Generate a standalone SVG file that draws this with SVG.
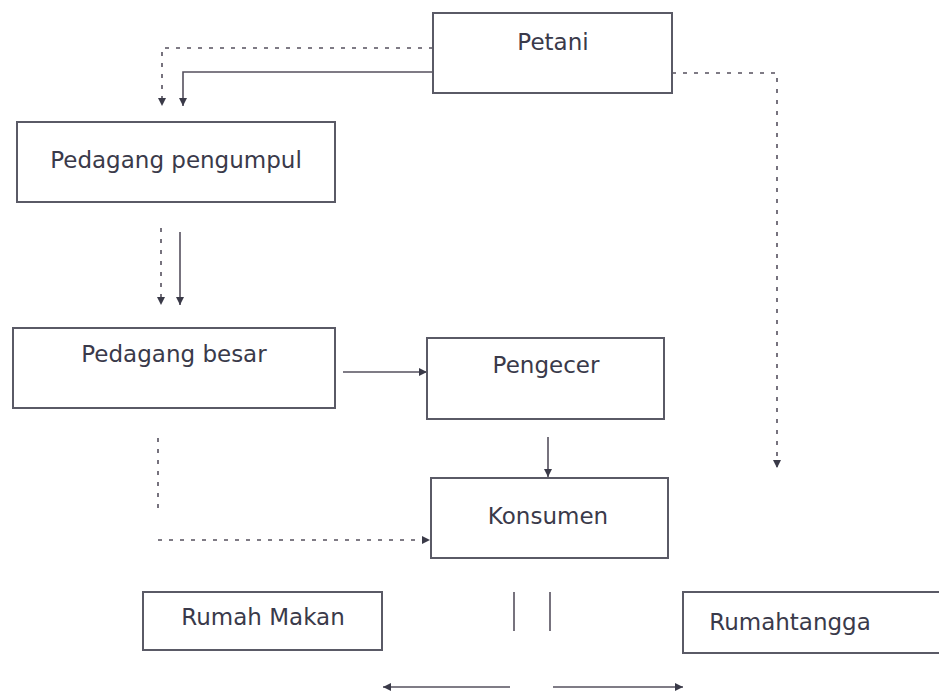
<svg xmlns="http://www.w3.org/2000/svg" width="939" height="697" viewBox="0 0 939 697">
<style>
.box{fill:#fff;stroke:#5a5a66;stroke-width:2}
.lbl{font-family:"DejaVu Sans",Verdana,sans-serif;font-size:23px;fill:#3a3a4a;text-anchor:middle}
.ln{fill:none;stroke:#55505e;stroke-width:1.6}
.dash{stroke-dasharray:4 7}
</style>
<defs>
<marker id="ah" viewBox="0 0 10 10" refX="10" refY="5" markerWidth="8" markerHeight="8" orient="auto" markerUnits="userSpaceOnUse">
<path d="M0,0 L10,5 L0,10 z" fill="#3a3a48"/>
</marker>
</defs>
<rect width="939" height="697" fill="#fff"/>
<g id="connectors">
<polyline class="ln dash" points="433,48 162,48 162,106" marker-end="url(#ah)"/>
<polyline class="ln" points="433,72 183,72 183,106" marker-end="url(#ah)"/>
<polyline class="ln dash" points="672,73 777,73 777,468" marker-end="url(#ah)"/>
<line class="ln dash" x1="161" y1="228" x2="161" y2="305" marker-end="url(#ah)"/>
<line class="ln" x1="180" y1="232" x2="180" y2="305" marker-end="url(#ah)"/>
<line class="ln" x1="343" y1="372" x2="427" y2="372" marker-end="url(#ah)"/>
<line class="ln" x1="548" y1="437" x2="548" y2="477" marker-end="url(#ah)"/>
<line class="ln dash" x1="158" y1="438" x2="158" y2="514"/>
<line class="ln dash" x1="158" y1="540" x2="430" y2="540" marker-end="url(#ah)"/>
<line class="ln" x1="514" y1="592" x2="514" y2="631"/>
<line class="ln" x1="550" y1="592" x2="550" y2="631"/>
<line class="ln" x1="510" y1="687" x2="383" y2="687" marker-end="url(#ah)"/>
<line class="ln" x1="553" y1="687" x2="683" y2="687" marker-end="url(#ah)"/>
</g>
<g id="petani"><rect class="box" x="433" y="13" width="239" height="80"/><text class="lbl" x="553" y="50">Petani</text></g>
<g id="pengumpul"><rect class="box" x="17" y="122" width="318" height="80"/><text class="lbl" x="176" y="168">Pedagang pengumpul</text></g>
<g id="besar"><rect class="box" x="13" y="328" width="322" height="80"/><text class="lbl" x="174" y="362">Pedagang besar</text></g>
<g id="pengecer"><rect class="box" x="427" y="338" width="237" height="81"/><text class="lbl" x="546" y="373">Pengecer</text></g>
<g id="konsumen"><rect class="box" x="431" y="478" width="237" height="80"/><text class="lbl" x="548" y="524">Konsumen</text></g>
<g id="rumahmakan"><rect class="box" x="143" y="592" width="239" height="58"/><text class="lbl" x="263" y="625">Rumah Makan</text></g>
<g id="rumahtangga"><rect class="box" x="683" y="592" width="264" height="61"/><text class="lbl" x="790" y="630">Rumahtangga</text></g>
</svg>
